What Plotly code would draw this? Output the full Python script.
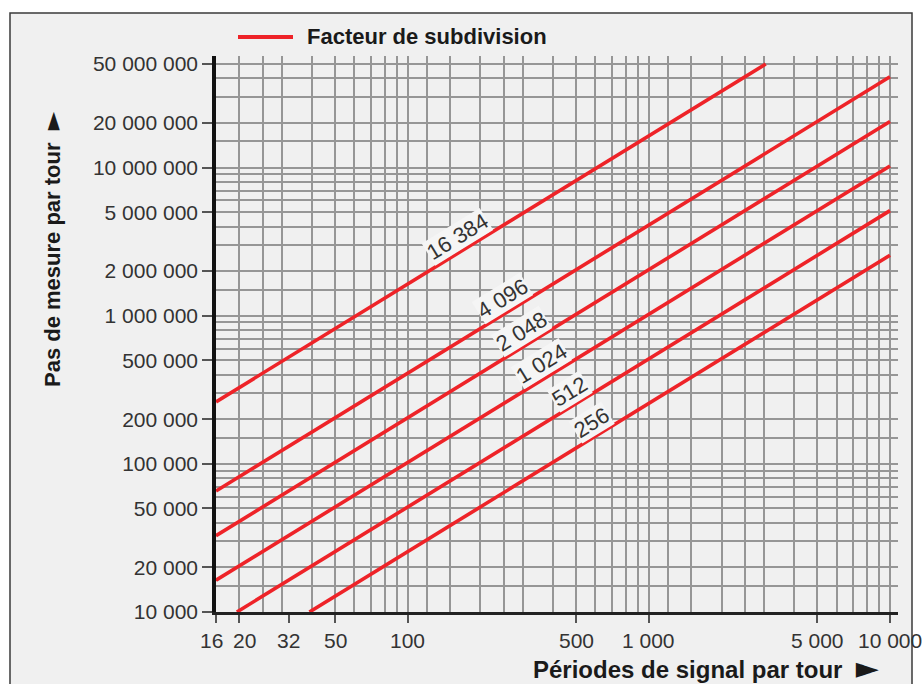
import math
import plotly.graph_objects as go

# Subdivision factors and the axis extents (signal periods / measuring steps per revolution)
factors = [16384, 4096, 2048, 1024, 512, 256]
factor_labels = ["16 384", "4 096", "2 048", "1 024", "512", "256"]
label_periods = [173, 265, 318, 385, 503, 621]   # where each factor label sits along its line

x_min, x_max = 16, 10000
y_min, y_max = 10000, 50000000

x_tickvals = [16, 20, 32, 50, 100, 500, 1000, 5000, 10000]
x_ticktext = ["16", "20", "32", "50", "100", "500", "1 000", "5 000", "10 000"]
x_label_nudge = [-5, 5, 0, 0, 0, 0, 0, 0, 0]   # keeps "16" and "20" apart
y_tickvals = [10000, 20000, 50000, 100000, 200000, 500000, 1000000, 2000000,
              5000000, 10000000, 20000000, 50000000]
y_ticktext = ["10 000", "20 000", "50 000", "100 000", "200 000", "500 000",
              "1 000 000", "2 000 000", "5 000 000", "10 000 000", "20 000 000",
              "50 000 000"]

x_grid = [20, 25, 30, 40, 50, 60, 70, 80, 90,
          100, 120, 150, 200, 250, 300, 400, 500, 600, 700, 800, 900,
          1000, 1200, 1500, 2000, 2500, 3000, 4000, 5000, 6000, 7000, 8000, 9000, 10000]
y_grid = [m * 10 ** e for e in range(4, 8) for m in (1, 1.5, 2, 3, 4, 5, 6, 7, 8, 9)
          if m * 10 ** e <= y_max]

RED = "#ee2328"
GRID = "#969696"
FONT = "Liberation Sans, Arial, Helvetica, sans-serif"
TEXT = "#333333"

W, H = 923, 684
L, R, T, B = 216, 25, 56, 72
PW, PH = W - L - R, H - T - B

xr = [math.log10(x_min), math.log10(x_max) + 8 / 241]
yr = [math.log10(y_min), math.log10(y_max) + 8 / 148]

fig = go.Figure()

for f in factors:
    xs = max(x_min, y_min / f)
    xe = min(x_max, y_max / f)
    fig.add_trace(go.Scatter(
        x=[xs, xe], y=[xs * f, xe * f], mode="lines",
        line=dict(color=RED, width=3.6), showlegend=False, hoverinfo="skip"))

# slope of the lines in screen space, used to rotate the factor labels
px_dec_x = PW / (xr[1] - xr[0])
px_dec_y = PH / (yr[1] - yr[0])
theta = math.atan2(px_dec_y, px_dec_x)
off = 14

annotations = []
for f, txt, p in zip(factors, factor_labels, label_periods):
    annotations.append(dict(
        x=math.log10(p), y=math.log10(p * f), xref="x", yref="y",
        text=txt, showarrow=False, textangle=-math.degrees(theta),
        xshift=-math.sin(theta) * off, yshift=math.cos(theta) * off,
        font=dict(family=FONT, size=22, color=TEXT),
        bgcolor="#f5f5f5", borderpad=0))


def fx(px):
    return (px - L) / PW


def fy(py):
    return (H - B - py) / PH


# x tick labels
for v, txt, dx in zip(x_tickvals, x_ticktext, x_label_nudge):
    annotations.append(dict(
        x=math.log10(v), y=fy(640), xref="x", yref="paper", xanchor="center",
        yanchor="middle", text=txt, showarrow=False, xshift=dx,
        font=dict(family=FONT, size=21, color=TEXT)))

ARROW = '\u00a0\u00a0<span style="font-family:DejaVu Sans;font-size:{}px">\u25ba</span>'

# legend entry
annotations.append(dict(
    x=fx(305), y=fy(37), xref="paper", yref="paper", xanchor="left", yanchor="middle",
    text="<b>Facteur de subdivision</b>", showarrow=False,
    font=dict(family=FONT, size=22, color="#1a1a1a")))

# axis titles
annotations.append(dict(
    x=fx(52), y=fy(249), xref="paper", yref="paper", xanchor="center", yanchor="middle",
    text="<b>Pas de mesure par tour</b>" + ARROW.format(24), showarrow=False,
    textangle=-90, font=dict(family=FONT, size=22, color="#1a1a1a")))
annotations.append(dict(
    x=fx(881), y=fy(667), xref="paper", yref="paper", xanchor="right", yanchor="middle",
    text="<b>Périodes de signal par tour</b>" + ARROW.format(30), showarrow=False,
    font=dict(family=FONT, size=24, color="#1a1a1a")))

shapes = [
    dict(type="rect", xref="paper", yref="paper", layer="below",
         x0=fx(10), x1=fx(912), y0=fy(13), y1=fy(700),
         fillcolor="#f0f0f0", line=dict(color="#3a3a3a", width=1.5)),
    dict(type="line", xref="paper", yref="paper",
         x0=fx(238), x1=fx(293), y0=fy(37), y1=fy(37),
         line=dict(color=RED, width=4)),
]

fig.update_layout(
    width=W, height=H, autosize=False,
    margin=dict(l=L, r=R, t=T, b=B, pad=0),
    paper_bgcolor="white", plot_bgcolor="rgba(0,0,0,0)",
    shapes=shapes, annotations=annotations, showlegend=False,
    xaxis=dict(
        type="log", range=xr, tickmode="array", tickvals=x_tickvals,
        ticks="outside", ticklen=8, tickwidth=1.5, tickcolor="#555555",
        showticklabels=False,
        showgrid=False, showline=True, linecolor="#222222", linewidth=2.5,
        zeroline=False, fixedrange=True,
        minor=dict(tickmode="array", tickvals=x_grid, showgrid=True,
                   gridcolor=GRID, gridwidth=1.5, ticks="")),
    yaxis=dict(
        type="log", range=yr, tickmode="array", tickvals=y_tickvals, ticktext=y_ticktext,
        ticks="outside", ticklen=10, tickwidth=1.5, tickcolor="#555555",
        tickfont=dict(family=FONT, size=21, color=TEXT), ticklabelstandoff=0,
        showgrid=False, showline=True, linecolor="#111111", linewidth=3.5,
        zeroline=False, fixedrange=True,
        minor=dict(tickmode="array", tickvals=y_grid, showgrid=True,
                   gridcolor=GRID, gridwidth=1.5, ticks="")),
)

fig.write_html("out.html")
